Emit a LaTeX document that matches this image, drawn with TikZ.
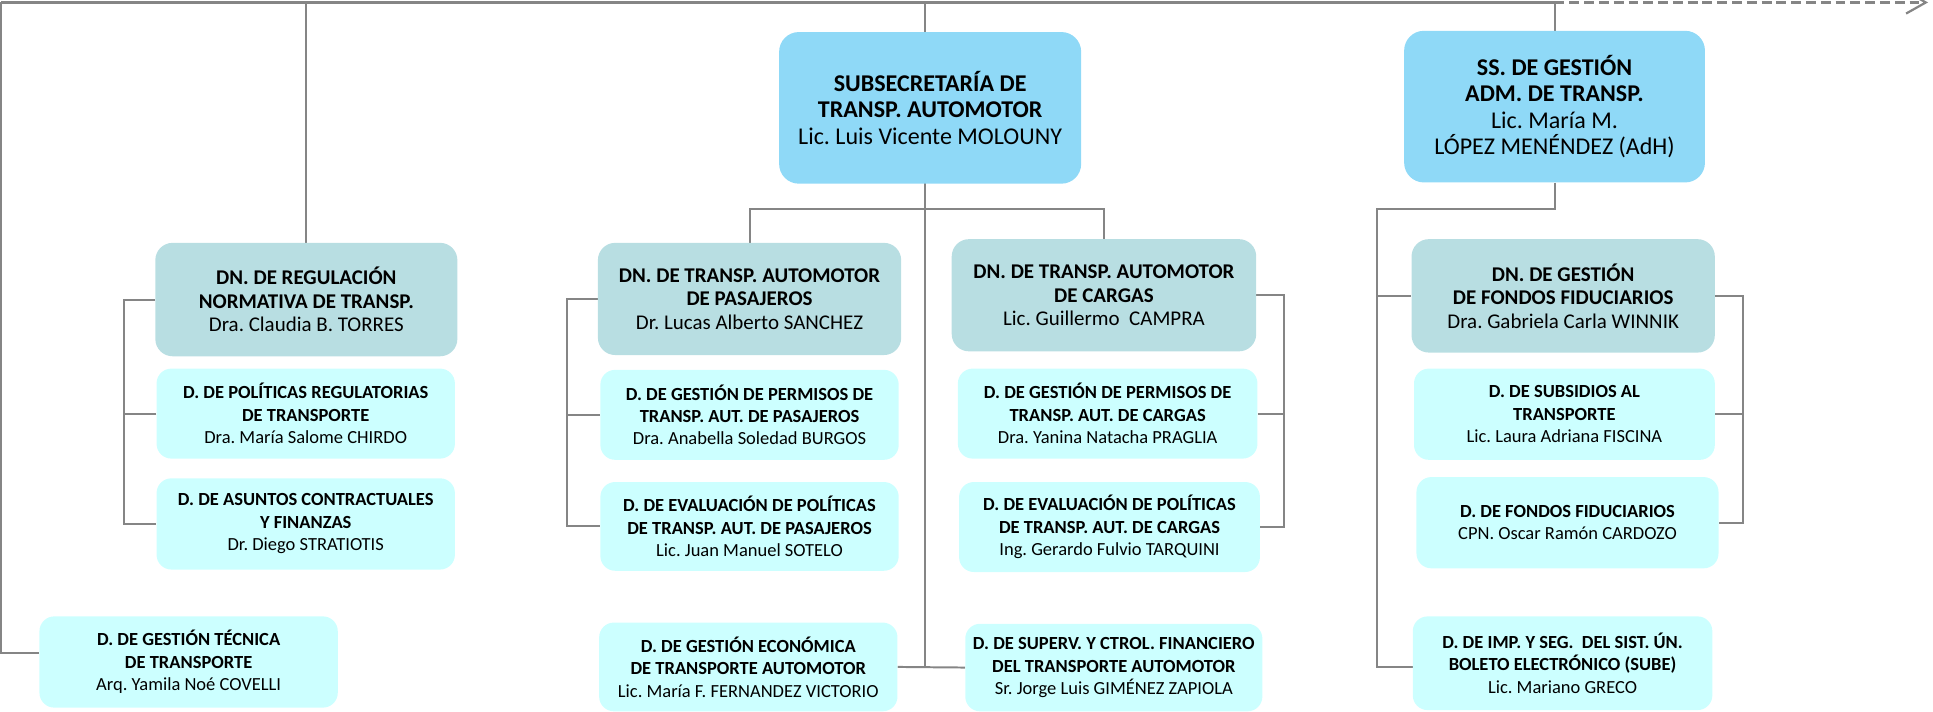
\documentclass[tikz,border=0pt]{standalone}
\usepackage{fontspec}
\setmainfont{Carlito}
\usetikzlibrary{arrows.meta,backgrounds}
\definecolor{topfill}{RGB}{143,217,247}
\definecolor{dnfill}{RGB}{184,222,226}
\definecolor{dfill}{RGB}{204,255,255}
\definecolor{linec}{RGB}{133,133,133}
\frenchspacing
\begin{document}
\begin{tikzpicture}[x=1pt,y=-1pt,
  basebox/.style={rectangle,align=center,inner sep=0pt,anchor=center},
  topbox/.style={basebox,fill=topfill,rounded corners=16pt,font=\fontsize{19.5}{21.3}\selectfont},
  dnbox/.style={basebox,fill=dnfill,rounded corners=14pt,font=\fontsize{17}{19}\selectfont},
  dbox/.style={basebox,fill=dfill,rounded corners=12pt,font=\fontsize{15}{18.2}\selectfont},
  conn/.style={draw=linec,line width=1.6pt},
  sz/.style 2 args={minimum width=#1pt,minimum height=#2pt}]
\clip (0,0) rectangle (1568,577);
\useasboundingbox (0,0) rectangle (1568,577);

% top level
\node[topbox,sz={245}{123}] (sub) at (754.5,87.5) {\textbf{SUBSECRETARÍA DE}\\\textbf{TRANSP. AUTOMOTOR}\\Lic. Luis Vicente MOLOUNY};
\node[topbox,sz={244}{123}] (ssg) at (1261,86.5) {\textbf{SS. DE GESTIÓN}\\\textbf{ADM. DE TRANSP.}\\Lic. María M.\\LÓPEZ MENÉNDEZ (AdH)};

% left column
\node[dnbox,sz={245}{92}] (dnreg) at (248.5,243) {\textbf{DN. DE REGULACIÓN}\\\textbf{NORMATIVA DE TRANSP.}\\Dra. Claudia B. TORRES};
\node[dbox,sz={242}{73}] (dpol) at (248,335.5) {\textbf{D. DE POLÍTICAS REGULATORIAS}\\\textbf{DE TRANSPORTE}\\Dra. María Salome CHIRDO};
\node[dbox,sz={242}{74}] (dasu) at (248,425) {\textbf{D. DE ASUNTOS CONTRACTUALES}\\\textbf{Y FINANZAS}\\Dr. Diego STRATIOTIS};

% pasajeros
\node[dnbox,sz={246}{91}] (dnpas) at (608,242.5) {\textbf{DN. DE TRANSP. AUTOMOTOR}\\\textbf{DE PASAJEROS}\\Dr. Lucas Alberto SANCHEZ};
\node[dbox,sz={242}{73}] (dgpp) at (608,336.5) {\textbf{D. DE GESTIÓN DE PERMISOS DE}\\\textbf{TRANSP. AUT. DE PASAJEROS}\\Dra. Anabella Soledad BURGOS};
\node[dbox,sz={242}{72}] (devp) at (608,427) {\textbf{D. DE EVALUACIÓN DE POLÍTICAS}\\\textbf{DE TRANSP. AUT. DE PASAJEROS}\\Lic. Juan Manuel SOTELO};

% cargas
\node[dnbox,sz={247}{91}] (dncar) at (895.5,239.5) {\textbf{DN. DE TRANSP. AUTOMOTOR}\\\textbf{DE CARGAS}\\Lic. Guillermo\ \ CAMPRA};
\node[dbox,sz={243}{73}] (dgpc) at (898.5,335.5) {\textbf{D. DE GESTIÓN DE PERMISOS DE}\\\textbf{TRANSP. AUT. DE CARGAS}\\Dra. Yanina Natacha PRAGLIA};
\node[dbox,sz={244}{73}] (devc) at (900,427.5) {\textbf{D. DE EVALUACIÓN DE POLÍTICAS}\\\textbf{DE TRANSP. AUT. DE CARGAS}\\Ing. Gerardo Fulvio TARQUINI};

% fondos
\node[dnbox,sz={246}{92}] (dnfon) at (1268,240) {\textbf{DN. DE GESTIÓN}\\\textbf{DE FONDOS FIDUCIARIOS}\\Dra. Gabriela Carla WINNIK};
\node[dbox,sz={244}{74}] (dsub) at (1269,336) {\textbf{D. DE SUBSIDIOS AL}\\\textbf{TRANSPORTE}\\Lic. Laura Adriana FISCINA};
\node[dbox,sz={245}{74}] (dfon) at (1271.5,424) {\textbf{D. DE FONDOS FIDUCIARIOS}\\CPN. Oscar Ramón CARDOZO};

% bottom row
\node[dbox,sz={242}{74}] (dtec) at (153,537) {\textbf{D. DE GESTIÓN TÉCNICA}\\\textbf{DE TRANSPORTE}\\Arq. Yamila Noé COVELLI};
\node[dbox,sz={242}{72}] (deco) at (607,541) {\textbf{D. DE GESTIÓN ECONÓMICA}\\\textbf{DE TRANSPORTE AUTOMOTOR}\\Lic. María F. FERNANDEZ VICTORIO};
\node[dbox,sz={241}{71}] (dsup) at (903.5,541.5) {\textbf{D. DE SUPERV. Y CTROL. FINANCIERO}\\\textbf{DEL TRANSPORTE AUTOMOTOR}\\Sr. Jorge Luis GIMÉNEZ ZAPIOLA};
\node[dbox,sz={243}{76}] (dsube) at (1267.5,538) {\textbf{D. DE IMP. Y SEG.\ \ DEL SIST. ÚN.}\\\textbf{BOLETO ELECTRÓNICO (SUBE)}\\Lic. Mariano GRECO};

% junction coordinates
\coordinate (tl) at (1,2);
\coordinate (tr) at (1261,2);
\coordinate (tend) at (1564,2);
\coordinate (stop) at (750,2);
\coordinate (sbot) at (750,541);
\coordinate (sbar) at (750,169.5);
\coordinate (gleft) at (1117,169.5);

\begin{pgfonlayer}{background}
\draw[conn,line width=2.2pt] (tl) -- (tr);
\draw[conn,line width=2pt,dash pattern=on 8pt off 4pt,-{Straight Barb[length=16pt,width=18pt,line width=1.8pt]}] (tr) -- (tend);
\draw[conn] (tl) |- ([yshift=7pt]dtec.west);
\draw[conn] (dnreg.north |- tl) -- (dnreg.north);
\draw[conn] (stop) -- (sbot);
\draw[conn] (deco.east) -- (dsup.west);
\draw[conn] (dnpas.north) |- (sbar) -| (dncar.north);
\draw[conn] (tr) -- (ssg.north);
\draw[conn] (ssg.south) |- (gleft) |- ([yshift=-3pt]dsube.west);
\draw[conn] (gleft |- dnfon.west) -- (dnfon.west);
% brackets
\draw[conn] (dnreg.west) -- ++(-25,0) |- (dasu.west);
\draw[conn] (dpol.west) -- ++(-26,0);
\draw[conn] (dnpas.west) -- ++(-25,0) |- (devp.west);
\draw[conn] (dgpp.west) -- ++(-27,0);
\draw[conn] (dncar.east) -- ++(22,0) |- (devc.east);
\draw[conn] (dgpc.east) -- ++(21,0);
\draw[conn] (dnfon.east) -- ++(23,0) |- (dfon.east);
\draw[conn] (dsub.east) -- ++(23,0);
\end{pgfonlayer}
\end{tikzpicture}
\end{document}
